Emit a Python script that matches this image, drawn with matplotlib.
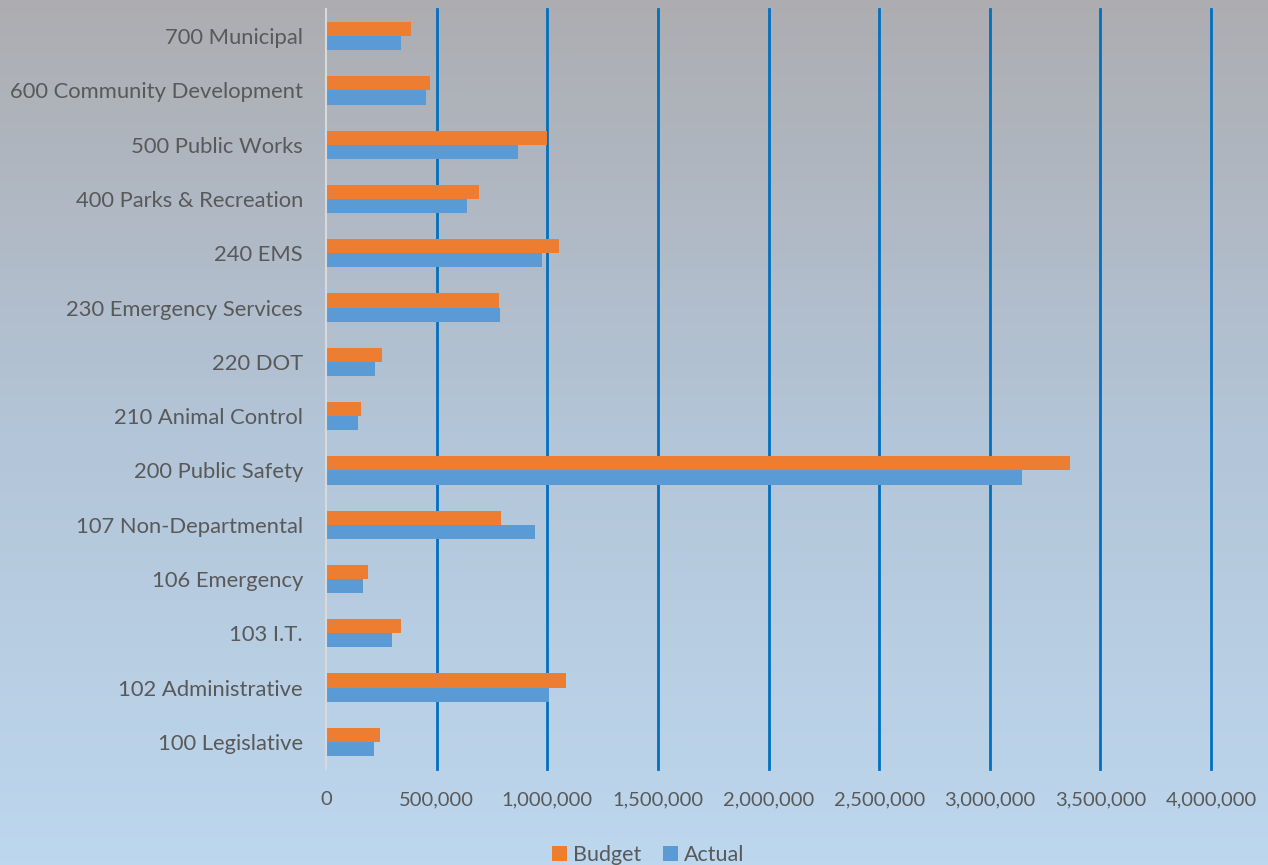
import numpy as np
import matplotlib.pyplot as plt
from matplotlib.ticker import FuncFormatter
from matplotlib.colors import LinearSegmentedColormap

# departments, bottom to top
departments = ['100 Legislative', '102 Administrative', '103 I.T.', '106 Emergency',
               '107 Non-Departmental', '200 Public Safety', '210 Animal Control', '220 DOT',
               '230 Emergency Services', '240 EMS', '400 Parks & Recreation',
               '500 Public Works', '600 Community Development', '700 Municipal']
budget = [243000, 1083000, 337000, 188000, 792000, 3362000, 157000, 253000,
          780000, 1055000, 690000, 997000, 468000, 384000]
actual = [217000, 1009000, 298000, 169000, 943000, 3147000, 143000, 221000,
          786000, 976000, 635000, 867000, 453000, 340000]
x_ticks = [0, 500000, 1000000, 1500000, 2000000, 2500000, 3000000, 3500000, 4000000]

plt.rcParams['font.family'] = ['Lato', 'DejaVu Sans']
text_col = '#595959'

fig = plt.figure(figsize=(12.68, 8.65), dpi=100)

# background gradient grey -> light blue
bg = fig.add_axes([0, 0, 1, 1], zorder=0)
cmap = LinearSegmentedColormap.from_list('bg', ['#ADADB1', '#B3C5D8', '#BDD7EE'])
grad = np.linspace(0, 1, 256).reshape(-1, 1)
bg.imshow(grad, aspect='auto', cmap=cmap, extent=[0, 1, 0, 1], origin='upper')
bg.axis('off')

ax = fig.add_axes([0.2571, 0.111, 0.698, 0.8786], zorder=1)
ax.patch.set_alpha(0)

y = np.arange(len(departments))
h = 0.26
ax.barh(y + h / 2, budget, height=h, color='#ED7D31', label='Budget', zorder=3)
ax.barh(y - h / 2, actual, height=h, color='#5B9BD5', label='Actual', zorder=3)

ax.set_xlim(0, 4000000)
ax.set_ylim(-0.5, len(departments) - 0.5)
ax.set_yticks(y)
ax.set_yticklabels(departments)
ax.set_xticks(x_ticks)
ax.xaxis.set_major_formatter(FuncFormatter(lambda v, p: f'{int(v):,}'))

for v in x_ticks[1:]:
    ax.axvline(v, color='#0070C0', lw=2, zorder=2, clip_on=False)

for s in ['top', 'right', 'bottom']:
    ax.spines[s].set_visible(False)
ax.spines['left'].set_color('#D9D9D9')
ax.spines['left'].set_linewidth(1.5)
ax.spines['left'].set_zorder(4)

ax.tick_params(axis='both', length=0, colors=text_col)
ax.tick_params(axis='y', pad=16.5, labelsize=15.8)
ax.tick_params(axis='x', pad=16, labelsize=14.5)

ax.legend(loc='upper center', bbox_to_anchor=(0.364, -0.075), ncol=2, frameon=False,
          fontsize=15.5, labelcolor=text_col, handlelength=0.7, handleheight=0.7,
          handletextpad=0.3, columnspacing=1.0)

fig.savefig('out.png', dpi=100)
